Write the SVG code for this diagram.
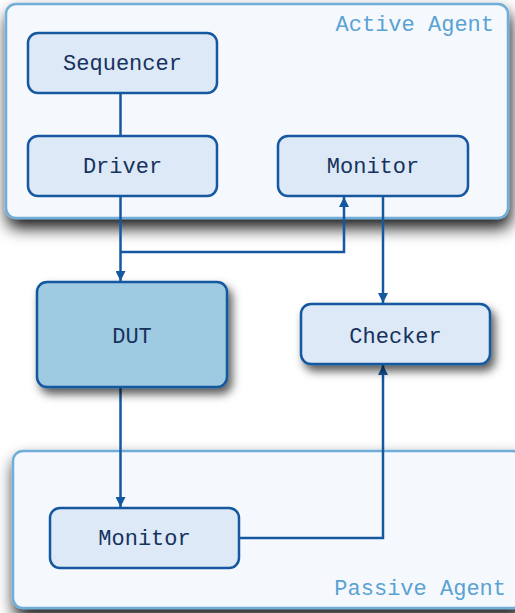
<svg xmlns="http://www.w3.org/2000/svg" width="515" height="613" viewBox="0 0 515 613">
  <defs>
    <filter id="shadowBig" x="-10%" y="-10%" width="125%" height="160%">
      <feDropShadow dx="2" dy="9" stdDeviation="8" flood-color="#000" flood-opacity="0.9"/>
    </filter>
    <filter id="shadowNode" x="-20%" y="-20%" width="150%" height="160%">
      <feDropShadow dx="4" dy="6" stdDeviation="5" flood-color="#000" flood-opacity="0.65"/>
    </filter>
    <marker id="arrow" viewBox="0 0 10 10" refX="10" refY="5" markerWidth="10" markerHeight="10" markerUnits="userSpaceOnUse" orient="auto">
      <path d="M0,0 L10,5 L0,10 z" fill="#1558a0"/>
    </marker>
  </defs>
  <style>
    .agent { fill: #f5f9fe; stroke: #6fadd8; stroke-width: 2.5; filter: url(#shadowBig); }
    .agent-label { font-family: "Liberation Mono", "Courier New", monospace; font-size: 22px; fill: #5aa2d2; }
    .node rect { fill: #dde9f6; stroke: #1558a0; stroke-width: 2.5; }
    .node.dut rect { fill: #9ecae2; }
    .node text { font-family: "Liberation Mono", "Courier New", monospace; font-size: 22px; fill: #16325e; text-anchor: middle; dominant-baseline: central; }
    .shadowed { filter: url(#shadowNode); }
    .conn { fill: none; stroke: #1558a0; stroke-width: 2.5; }
  </style>

  <rect x="0" y="0" width="515" height="613" fill="#ffffff"/>

  <!-- agent containers -->
  <g id="active-agent">
    <rect class="agent" x="6" y="4" width="502" height="214" rx="10"/>
    <text class="agent-label" x="494" y="31" text-anchor="end">Active Agent</text>
  </g>
  <g id="passive-agent">
    <rect class="agent" x="13" y="451" width="510" height="157" rx="10"/>
    <text class="agent-label" x="506" y="595" text-anchor="end">Passive Agent</text>
  </g>

  <!-- connectors -->
  <g id="connectors">
    <path class="conn" d="M120.5,93 V136"/>
    <path class="conn" d="M120.5,196 V281" marker-end="url(#arrow)"/>
    <path class="conn" d="M120.5,252 H344 V197" marker-end="url(#arrow)"/>
    <path class="conn" d="M383,196 V303" marker-end="url(#arrow)"/>
    <path class="conn" d="M120.5,387 V507" marker-end="url(#arrow)"/>
    <path class="conn" d="M239,538 H383 V365" marker-end="url(#arrow)"/>
  </g>

  <!-- nodes -->
  <g id="sequencer" class="node">
    <rect x="28" y="33" width="189" height="60" rx="10"/>
    <text x="122.5" y="64.5">Sequencer</text>
  </g>
  <g id="driver" class="node">
    <rect x="28" y="136" width="189" height="60" rx="10"/>
    <text x="122.5" y="167.5">Driver</text>
  </g>
  <g id="active-monitor" class="node">
    <rect x="278" y="136" width="190" height="60" rx="10"/>
    <text x="373" y="167.5">Monitor</text>
  </g>
  <g id="dut" class="node dut">
    <rect class="shadowed" x="37" y="282" width="190" height="105" rx="10"/>
    <text x="132" y="337.5">DUT</text>
  </g>
  <g id="checker" class="node">
    <rect class="shadowed" x="301" y="304" width="189" height="60" rx="10"/>
    <text x="395.5" y="337.5">Checker</text>
  </g>
  <g id="passive-monitor" class="node">
    <rect x="50" y="508" width="189" height="60" rx="10"/>
    <text x="144.5" y="539.5">Monitor</text>
  </g>
</svg>
